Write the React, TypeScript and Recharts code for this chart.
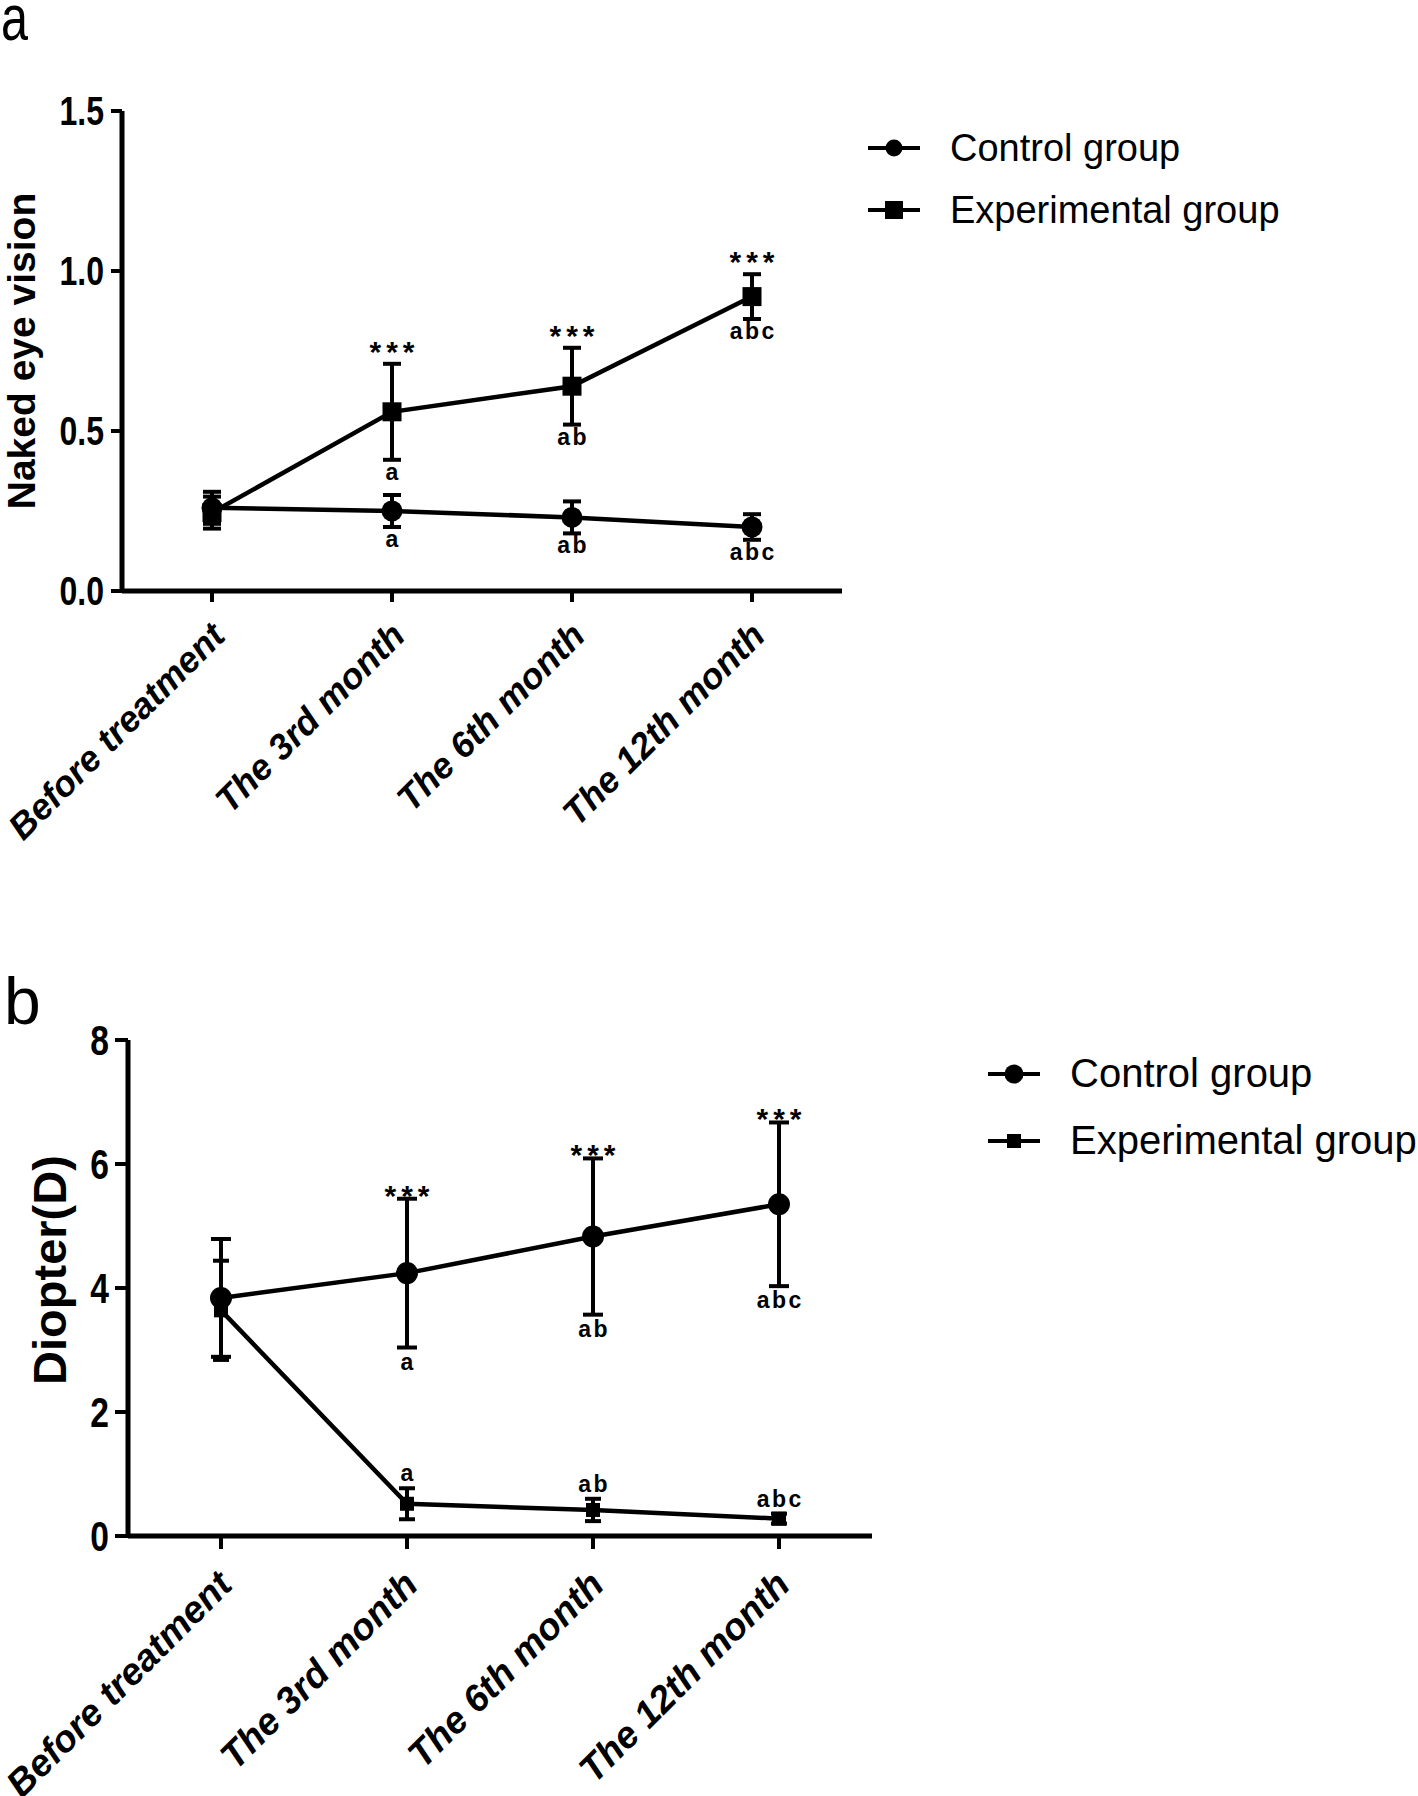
import React from 'react';
import { LineChart, Line, XAxis, YAxis, ErrorBar, Legend, LabelList } from 'recharts';

const FONT = "'Liberation Sans', Arial, Helvetica, sans-serif";

const categories = ['Before treatment', 'The 3rd month', 'The 6th month', 'The 12th month'];

// panel a - naked eye vision
const visionControl = [0.26, 0.25, 0.23, 0.2];
const visionControlErr = [0.05, 0.05, 0.05, 0.04];
const visionExp = [0.245, 0.56, 0.64, 0.92];
const visionExpErr = [0.05, 0.15, 0.12, 0.07];
const visionTicks = [0, 0.5, 1, 1.5];

// panel b - diopter
const diopterControl = [3.84, 4.24, 4.83, 5.35];
const diopterControlErr = [0.95, 1.2, 1.26, 1.32];
const diopterExp = [3.64, 0.52, 0.42, 0.28];
const diopterExpErr = [0.8, 0.25, 0.18, 0.08];
const diopterTicks = [0, 2, 4, 6, 8];

// significance marks
const starMarks = ['', '***', '***', '***'];
const letterMarks = ['', 'a', 'ab', 'abc'];

const visionData = categories.map((name, i) => ({
  name,
  control: visionControl[i],
  controlErr: visionControlErr[i],
  exp: visionExp[i],
  expErr: visionExpErr[i],
  expHigh: visionExp[i] + visionExpErr[i],
  expLow: visionExp[i] - visionExpErr[i],
  controlLow: visionControl[i] - visionControlErr[i],
  stars: starMarks[i],
  letters: letterMarks[i],
}));

const diopterData = categories.map((name, i) => ({
  name,
  control: diopterControl[i],
  controlErr: diopterControlErr[i],
  exp: diopterExp[i],
  expErr: diopterExpErr[i],
  controlHigh: diopterControl[i] + diopterControlErr[i],
  controlLow: diopterControl[i] - diopterControlErr[i],
  expHigh: diopterExp[i] + diopterExpErr[i],
  stars: starMarks[i],
  letters: letterMarks[i],
}));

const circleDot = (r: number) => (props: any) => {
  const { cx, cy, index } = props;
  if (cx == null || cy == null) return <g key={`c-${index}`} />;
  return <circle key={`c-${index}`} cx={cx} cy={cy} r={r} fill="#000" />;
};

const squareDot = (size: number) => (props: any) => {
  const { cx, cy, index } = props;
  if (cx == null || cy == null) return <g key={`s-${index}`} />;
  return <rect key={`s-${index}`} x={cx - size / 2} y={cy - size / 2} width={size} height={size} fill="#000" />;
};

// text placed relative to a whisker end
const markText = (shift: number, size: number, spacing: number) => (props: any) => {
  const x = props.x ?? props.viewBox?.x;
  const y = props.y ?? props.viewBox?.y;
  if (!props.value || x == null || y == null) return null;
  return (
    <text
      x={x + spacing / 2}
      y={y + shift}
      textAnchor="middle"
      fontFamily={FONT}
      fontSize={size}
      fontWeight="bold"
      letterSpacing={spacing}
      fill="#000"
    >
      {props.value}
    </text>
  );
};

const SlantTick = (props: any) => {
  const { x, y, payload, fontSize, dx, dy } = props;
  const ax = x + dx;
  const ay = y + dy;
  return (
    <text
      x={ax}
      y={ay}
      transform={`rotate(-45, ${ax}, ${ay})`}
      textAnchor="end"
      fontFamily={FONT}
      fontSize={fontSize}
      fontWeight="bold"
      fontStyle="italic"
      fill="#000"
    >
      {payload.value}
    </text>
  );
};

// narrow bold numbers on the value axis
const NarrowTick = (props: any) => {
  const { x, y, payload, fontSize, digits } = props;
  const label = digits ? Number(payload.value).toFixed(digits) : String(payload.value);
  return (
    <text
      x={0}
      y={0}
      dy="0.36em"
      transform={`translate(${x}, ${y}) scale(0.8, 1)`}
      textAnchor="end"
      fontFamily={FONT}
      fontSize={fontSize}
      fontWeight="bold"
      fill="#000"
    >
      {label}
    </text>
  );
};

const axisTitle = (text: string, dx: number, dy: number, size: number) => (props: any) => {
  const vb = props.viewBox || { x: 0, y: 0, width: 0, height: 0 };
  const x = vb.x + dx;
  const y = vb.y + vb.height / 2 + dy;
  return (
    <text
      x={x}
      y={y}
      transform={`rotate(-90, ${x}, ${y})`}
      textAnchor="middle"
      fontFamily={FONT}
      fontSize={size}
      fontWeight="bold"
      fill="#000"
    >
      {text}
    </text>
  );
};

const makeLegend = (fontSize: number, rowH: number, circleR: number, sq: number) => (props: any) => {
  const items = (props.payload || []).filter((p: any) => p.type !== 'none');
  return (
    <div style={{ fontFamily: FONT }}>
      {items.map((entry: any) => (
        <div key={entry.value} style={{ display: 'flex', alignItems: 'center', height: rowH }}>
          <svg width={52} height={26}>
            <line x1={0} x2={52} y1={13} y2={13} stroke="#000" strokeWidth={4} />
            {entry.value === 'Control group' ? (
              <circle cx={26} cy={13} r={circleR} fill="#000" />
            ) : (
              <rect x={26 - sq / 2} y={13 - sq / 2} width={sq} height={sq} fill="#000" />
            )}
          </svg>
          <span style={{ marginLeft: 30, fontSize, color: '#000', whiteSpace: 'nowrap' }}>{entry.value}</span>
        </div>
      ))}
    </div>
  );
};

const axisStroke = { stroke: '#000', strokeWidth: 5 };
const tickStroke = { stroke: '#000', strokeWidth: 4 };

const VisionChart = () => (
  <LineChart width={1418} height={900} data={visionData} margin={{ top: 111, right: 576, bottom: 109, left: 0 }}>
    <XAxis
      dataKey="name"
      height={200}
      padding={{ left: 90, right: 90 }}
      axisLine={axisStroke}
      tickLine={tickStroke}
      tickSize={11}
      interval={0}
      tick={<SlantTick fontSize={36} dx={15} dy={34} />}
    />
    <YAxis
      type="number"
      domain={[0, 1.5]}
      ticks={visionTicks}
      width={122}
      axisLine={axisStroke}
      tickLine={tickStroke}
      tickSize={11}
      tickMargin={7}
      tick={<NarrowTick fontSize={40} digits={1} />}
      label={axisTitle('Naked eye vision', 35, 0, 39)}
    />
    <Legend
      layout="horizontal"
      verticalAlign="middle"
      align="center"
      wrapperStyle={{ top: 117, left: 868, width: 'auto' }}
      content={makeLegend(38, 62, 8.5, 18)}
    />
    <Line
      dataKey="exp"
      name="Experimental group"
      stroke="#000"
      strokeWidth={4.5}
      dot={squareDot(19)}
      activeDot={false}
      isAnimationActive={false}
      legendType="square"
    >
      <ErrorBar dataKey="expErr" width={9} strokeWidth={4} stroke="#000" direction="y" />
    </Line>
    <Line
      dataKey="control"
      name="Control group"
      stroke="#000"
      strokeWidth={4.5}
      dot={circleDot(10.5)}
      activeDot={false}
      isAnimationActive={false}
      legendType="circle"
    >
      <ErrorBar dataKey="controlErr" width={9} strokeWidth={4} stroke="#000" direction="y" />
    </Line>
    <Line dataKey="expHigh" stroke="none" dot={false} activeDot={false} legendType="none" isAnimationActive={false}>
      <LabelList dataKey="stars" content={markText(-2, 30, 5)} />
    </Line>
    <Line dataKey="expLow" stroke="none" dot={false} activeDot={false} legendType="none" isAnimationActive={false}>
      <LabelList dataKey="letters" content={markText(20, 23, 2.5)} />
    </Line>
    <Line dataKey="controlLow" stroke="none" dot={false} activeDot={false} legendType="none" isAnimationActive={false}>
      <LabelList dataKey="letters" content={markText(20, 23, 2.5)} />
    </Line>
  </LineChart>
);

const DiopterChart = () => (
  <LineChart width={1418} height={896} data={diopterData} margin={{ top: 140, right: 546, bottom: 60, left: 0 }}>
    <XAxis
      dataKey="name"
      height={200}
      padding={{ left: 93, right: 93 }}
      axisLine={axisStroke}
      tickLine={tickStroke}
      tickSize={13}
      interval={0}
      tick={<SlantTick fontSize={37.5} dx={13} dy={36} />}
    />
    <YAxis
      type="number"
      domain={[0, 8]}
      ticks={diopterTicks}
      width={128}
      axisLine={axisStroke}
      tickLine={tickStroke}
      tickSize={13}
      tickMargin={6}
      tick={<NarrowTick fontSize={42} digits={0} />}
      label={axisTitle('Diopter(D)', 66, -18, 47)}
    />
    <Legend
      layout="horizontal"
      verticalAlign="middle"
      align="center"
      wrapperStyle={{ top: 140, left: 988, width: 'auto' }}
      content={makeLegend(40, 67, 9.5, 14)}
    />
    <Line
      dataKey="control"
      name="Control group"
      stroke="#000"
      strokeWidth={4.5}
      dot={circleDot(11)}
      activeDot={false}
      isAnimationActive={false}
      legendType="circle"
    >
      <ErrorBar dataKey="controlErr" width={10} strokeWidth={4} stroke="#000" direction="y" />
    </Line>
    <Line
      dataKey="exp"
      name="Experimental group"
      stroke="#000"
      strokeWidth={4.5}
      dot={squareDot(14)}
      activeDot={false}
      isAnimationActive={false}
      legendType="square"
    >
      <ErrorBar dataKey="expErr" width={8} strokeWidth={4} stroke="#000" direction="y" />
    </Line>
    <Line dataKey="controlHigh" stroke="none" dot={false} activeDot={false} legendType="none" isAnimationActive={false}>
      <LabelList dataKey="stars" content={markText(7, 30, 5)} />
    </Line>
    <Line dataKey="controlLow" stroke="none" dot={false} activeDot={false} legendType="none" isAnimationActive={false}>
      <LabelList dataKey="letters" content={markText(22, 23, 2.5)} />
    </Line>
    <Line dataKey="expHigh" stroke="none" dot={false} activeDot={false} legendType="none" isAnimationActive={false}>
      <LabelList dataKey="letters" content={markText(-7, 23, 2.5)} />
    </Line>
  </LineChart>
);

export default function App() {
  return (
    <div style={{ position: 'absolute', left: 0, top: 0, width: 1418, height: 1796, background: '#fff' }}>
      <svg width={1418} height={1796} style={{ position: 'absolute', left: 0, top: 0 }}>
        <text x={1} y={40} fontFamily={FONT} fontSize={64} textLength={27} lengthAdjust="spacingAndGlyphs" fill="#000">a</text>
        <text x={4} y={1024} fontFamily={FONT} fontSize={66} fill="#000">b</text>
      </svg>
      <div style={{ position: 'absolute', left: 0, top: 0 }}>
        <VisionChart />
      </div>
      <div style={{ position: 'absolute', left: 0, top: 900 }}>
        <DiopterChart />
      </div>
    </div>
  );
}
